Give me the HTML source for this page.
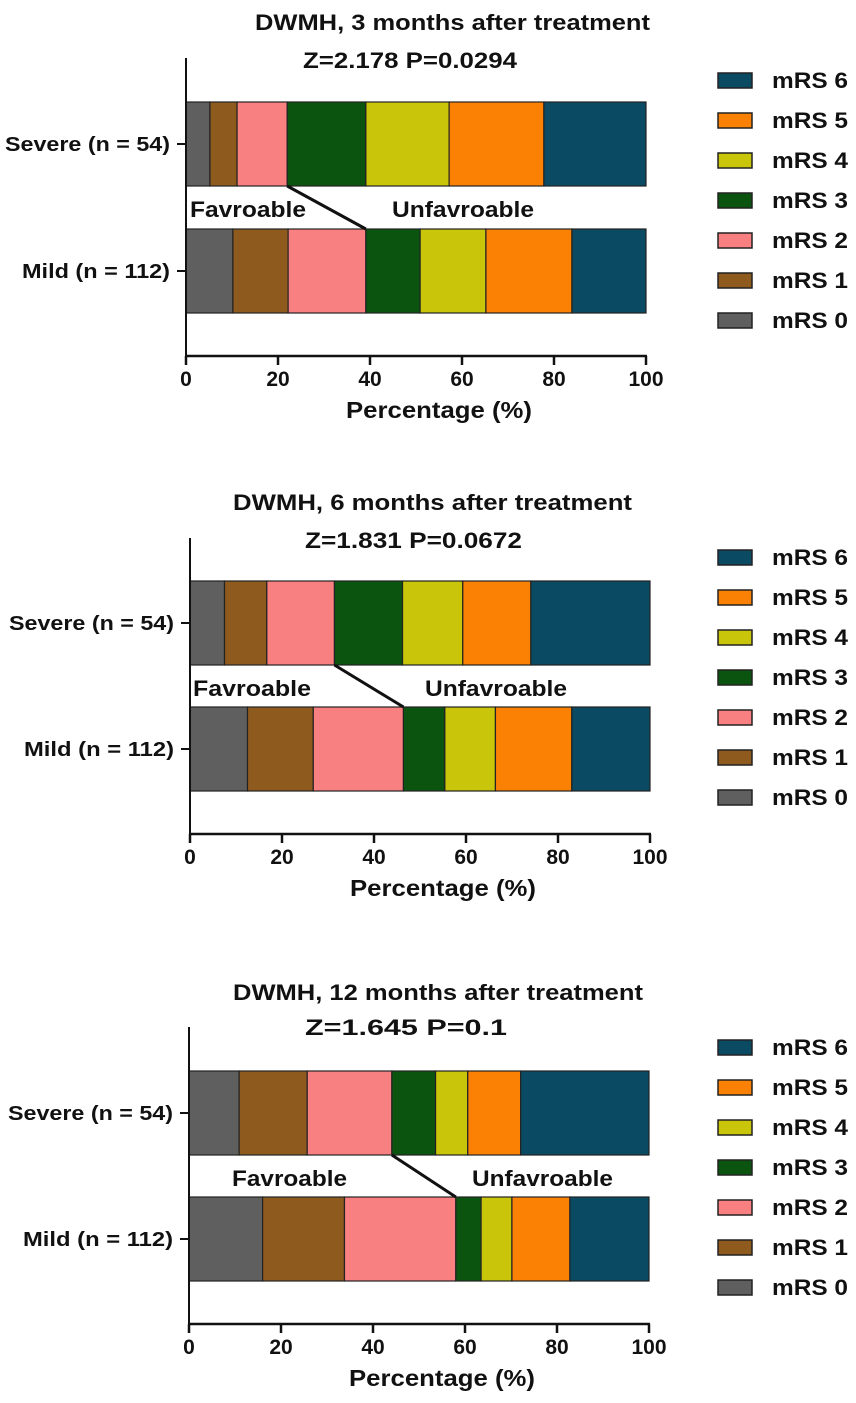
<!DOCTYPE html>
<html><head><meta charset="utf-8"><style>
html,body{margin:0;padding:0;background:#fff;}
svg{display:block;}
text{font-family:"Liberation Sans",sans-serif;font-weight:bold;fill:#111;}
</style></head><body>
<svg id="chart" width="856" height="1403" viewBox="0 0 856 1403"></svg>
<script>
const categories = ["Severe (n = 54)", "Mild (n = 112)"];
const seriesNames = ["mRS 0","mRS 1","mRS 2","mRS 3","mRS 4","mRS 5","mRS 6"];
const panelTitles = ["DWMH, 3 months after treatment","DWMH, 6 months after treatment","DWMH, 12 months after treatment"];
const panelStats = ["Z=2.178  P=0.0294","Z=1.831  P=0.0672","Z=1.645  P=0.1"];
const severe3 = [5.2, 5.9, 10.9, 17.1, 18.1, 20.6, 22.2];
const mild3 = [10.2, 12.0, 16.9, 11.8, 14.3, 18.7, 16.1];
const severe6 = [7.5, 9.2, 14.7, 14.8, 13.1, 14.8, 25.9];
const mild6 = [12.5, 14.3, 19.6, 9.0, 11.0, 16.6, 17.0];
const severe12 = [10.9, 14.8, 18.4, 9.5, 7.0, 11.5, 27.9];
const mild12 = [16.0, 17.8, 24.2, 5.5, 6.7, 12.6, 17.2];
const xTicks = [0, 20, 40, 60, 80, 100];

const colors = ["#5f5f5f","#8f5a1e","#f98080","#0b5410","#c8c50a","#fb8105","#0a4a62"];
const panels = [
  {data:[severe3, mild3], x0:186, x1:646, top:58, axisY:356, barTop:[102,229], barH:84, titleY:30, titleX:[255,650], statY:68, statX:[303,517], fav:[190,306,209], unfav:[392,534,209], legendY:80, catL:[5,22], name:"3-months"},
  {data:[severe6, mild6], x0:190, x1:650, top:538, axisY:834, barTop:[581,707], barH:84, titleY:510, titleX:[233,632], statY:548, statX:[305,522], fav:[193,311,688], unfav:[425,567,688], legendY:557, catL:[9,24], name:"6-months"},
  {data:[severe12, mild12], x0:189, x1:649, top:1027, axisY:1324, barTop:[1071,1197], barH:84, titleY:1000, titleX:[233,643], statY:1035, statX:[305,507], fav:[232,347,1178], unfav:[472,613,1178], legendY:1047, catL:[8,23], name:"12-months"}
];
const NS = "http://www.w3.org/2000/svg";
const svg = document.getElementById("chart");
function mk(tag, attrs, parent){const e=document.createElementNS(NS,tag);for(const k in attrs)e.setAttribute(k,attrs[k]);(parent||svg).appendChild(e);return e;}
function txt(s, attrs, parent){const e=mk("text",attrs,parent);e.textContent=s;return e;}

panels.forEach((p, pi) => {
  const g = mk("g", {});
  
  
  const xs = v => p.x0 + (p.x1 - p.x0) * v / 100;
  let t = txt(panelTitles[pi], {x:p.titleX[0], y:p.titleY, "font-size":22, textLength:p.titleX[1]-p.titleX[0], lengthAdjust:"spacingAndGlyphs"}, g);
  
  
  t = txt(panelStats[pi], {x:p.statX[0], y:p.statY, "font-size":22, textLength:p.statX[1]-p.statX[0], lengthAdjust:"spacingAndGlyphs"}, g);
  
  
  const cumEnds = [];
  p.data.forEach((vals, ci) => {
    let acc = 0; const y = p.barTop[ci];
    const ends = [];
    vals.forEach((v, si) => {
      const r = mk("rect", {x:xs(acc), y:y, width:xs(acc+v)-xs(acc), height:p.barH, fill:colors[si], stroke:"#222", "stroke-width":1.2}, g);
      
      
      acc += v; ends.push(acc);
    });
    cumEnds.push(ends);
    const cy = y + p.barH/2;
    const tk = mk("line", {x1:p.x0-9, x2:p.x0, y1:cy, y2:cy, stroke:"#111", "stroke-width":2}, g);
    
    
    const lb = txt(categories[ci], {x:p.catL[ci], y:cy+7, "font-size":20, textLength:p.x0-16-p.catL[ci], lengthAdjust:"spacingAndGlyphs"}, g);
    
    
  });
  const cl = mk("line", {x1:xs(cumEnds[0][2]), y1:p.barTop[0]+p.barH, x2:xs(cumEnds[1][2]), y2:p.barTop[1], stroke:"#111", "stroke-width":3}, g);
  
  
  t = txt("Favroable", {x:p.fav[0], y:p.fav[2]+8, "font-size":22, textLength:p.fav[1]-p.fav[0], lengthAdjust:"spacingAndGlyphs"}, g);
  
  
  t = txt("Unfavroable", {x:p.unfav[0], y:p.unfav[2]+8, "font-size":22, textLength:p.unfav[1]-p.unfav[0], lengthAdjust:"spacingAndGlyphs"}, g);
  
  
  const ya = mk("line", {x1:p.x0, x2:p.x0, y1:p.top, y2:p.axisY, stroke:"#111", "stroke-width":2}, g);
  
  
  const xa = mk("line", {x1:p.x0-1, x2:p.x1+1, y1:p.axisY, y2:p.axisY, stroke:"#111", "stroke-width":2.5}, g);
  
  
  xTicks.forEach(v => {
    const l = mk("line", {x1:xs(v), x2:xs(v), y1:p.axisY, y2:p.axisY+9, stroke:"#111", "stroke-width":2.5}, g);
    
    
    const tl = txt(String(v), {x:xs(v), y:p.axisY+30, "font-size":21, "text-anchor":"middle"}, g);
    
    
  });
  t = txt("Percentage (%)", {x:p.x0+160, y:p.axisY+62, "font-size":23, textLength:186, lengthAdjust:"spacingAndGlyphs"}, g);
  
  
  for (let k = 0; k < 7; k++) {
    const si = 6 - k;
    const cy = p.legendY + k*40;
    const lg = mk("g", {}, g);
    
    
    mk("rect", {x:718, y:cy-7, width:34, height:15, fill:colors[si], stroke:"#222", "stroke-width":1.5}, lg);
    txt(seriesNames[si], {x:772, y:cy+8, "font-size":22, textLength:76, lengthAdjust:"spacingAndGlyphs"}, lg);
  }
});
</script>
</body></html>
